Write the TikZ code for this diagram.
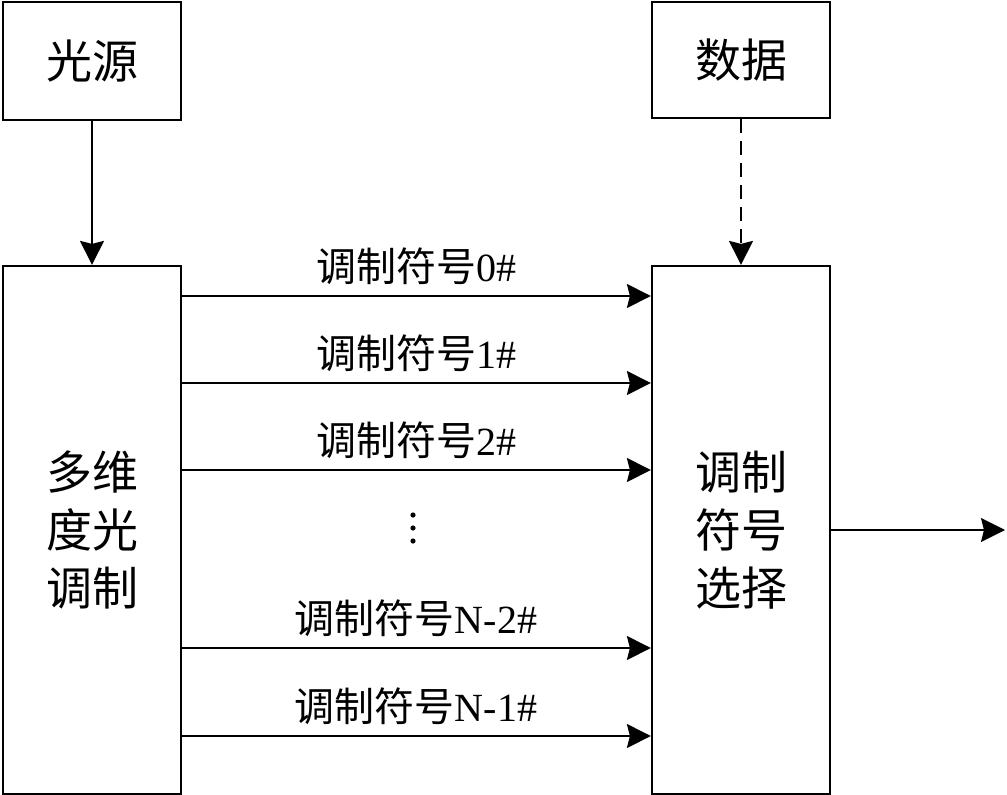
\documentclass[tikz,border=0pt]{standalone}
\usepackage{fontspec}
\setmainfont{Liberation Serif}
\newfontfamily\cjk{Noto Sans CJK SC}
\usetikzlibrary{arrows.meta}
\begin{document}
\begin{tikzpicture}[x=1pt,y=-1pt,
  box/.style={draw,line width=2.2pt,inner sep=0pt,minimum width=178pt,font=\cjk\fontsize{46}{58}\selectfont,align=center},
  arr/.style={line width=1.6pt,-{Stealth[length=24pt,width=24pt,inset=3pt]}},
  lab/.style={font=\fontsize{40}{42}\selectfont,inner sep=0pt}]
\useasboundingbox (0,0) rectangle (1007,795);
\node[box,minimum height=118pt] (src) at (92,61) {光源};
\node[box,minimum height=116pt] (dat) at (741,60) {数据};
\node[box,minimum height=528pt] (mod) at (92,530) {多维\\度光\\调制};
\node[box,minimum height=528pt] (sel) at (741,530) {调制\\符号\\选择};
\coordinate (out) at (1005,530);
\draw[arr] (src) -- (mod);
\draw[arr,dash pattern=on 14pt off 8pt] (dat) -- (sel);
\foreach \yy/\t [count=\i] in {296/0,383/1,470/2,648/N-2,736/N-1}{
  \coordinate (a\i) at (181,\yy);
  \draw[arr] (a\i) -- (sel.west |- a\i);
  \node[lab] (t\i) at (416,\yy-30) {{\cjk 调制符号}\t\#};
}
\foreach \yy [count=\i] in {515,528,541}
  \fill (413,\yy) circle (2.6pt);
\draw[arr] (sel.east |- out) -- (out);
\end{tikzpicture}
\end{document}
